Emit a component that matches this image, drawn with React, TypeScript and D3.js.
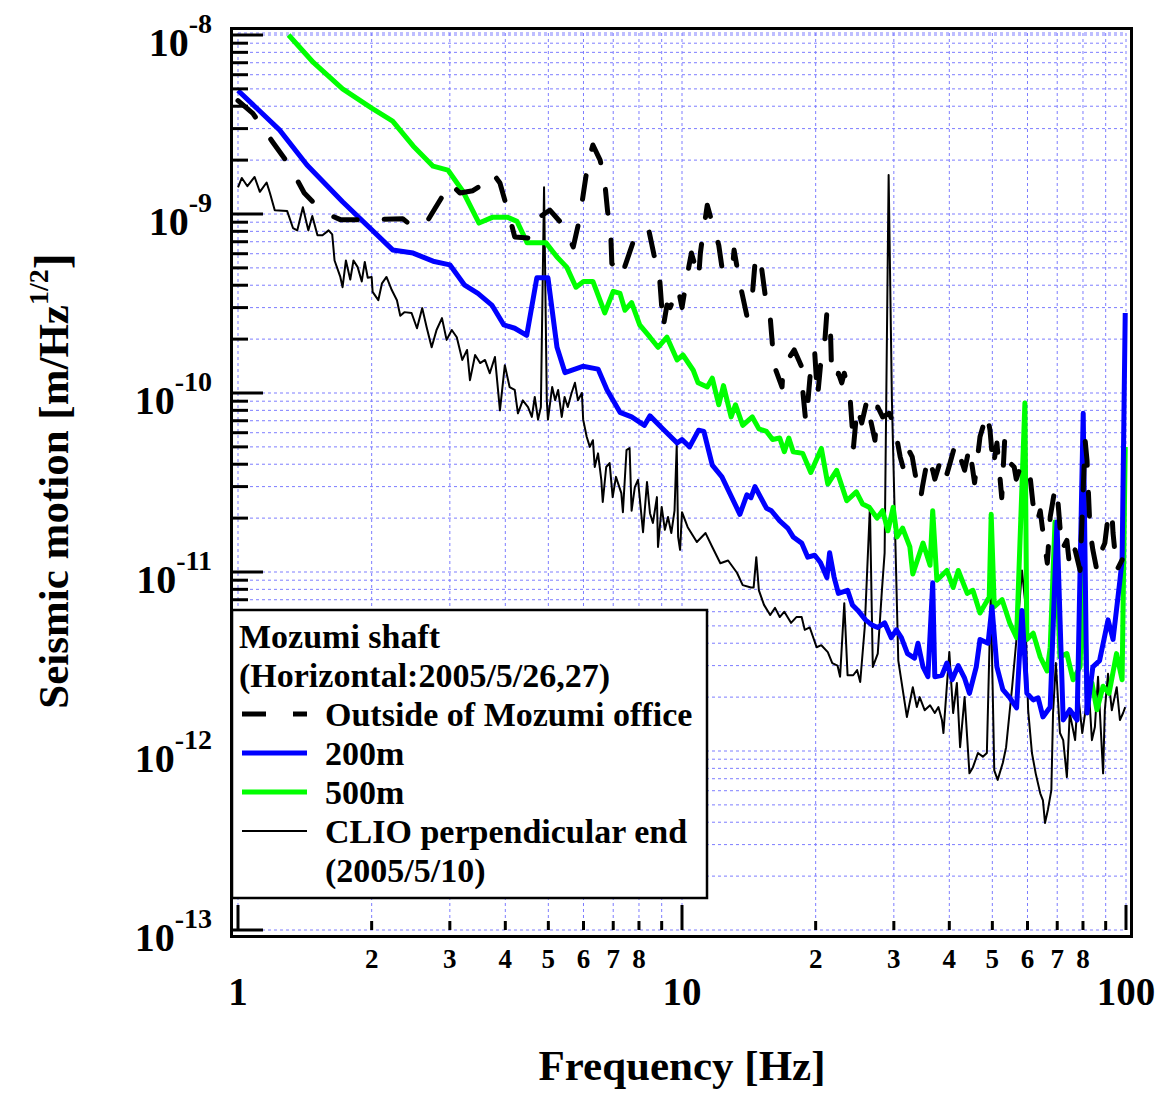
import React from 'react';
import * as d3 from 'd3';

// [frequency Hz, amplitude m/Hz^1/2]
const outsideOffice: [number, number][] = [
  [1.0, 4.3e-9], [1.08, 3.65e-9], [1.2, 2.5e-9], [1.3, 1.9e-9], [1.41, 1.31e-9], [1.55, 1.03e-9],
  [1.7, 9.3e-10], [2.03, 9.3e-10], [2.35, 9.4e-10], [2.5, 8.35e-10], [2.66, 9.0e-10], [2.9, 1.28e-9],
  [3.0, 1.49e-9], [3.16, 1.31e-9], [3.38, 1.35e-9], [3.6, 1.49e-9], [3.75, 1.69e-9], [3.89, 1.49e-9],
  [4.09, 9.6e-10], [4.2, 7.45e-10], [4.5, 7.35e-10], [4.74, 9.5e-10], [5.04, 1.05e-9], [5.39, 8.7e-10],
  [5.69, 6.55e-10], [5.89, 9.6e-10], [5.99, 1.28e-9], [6.14, 1.93e-9], [6.3, 2.43e-9], [6.54, 2.0e-9],
  [6.7, 1.5e-9], [6.8, 1.03e-9], [6.91, 7.8e-10], [6.95, 5.3e-10], [7.3, 4.45e-10], [7.75, 6.9e-10],
  [8.03, 7.8e-10], [8.4, 8.35e-10], [8.65, 5.9e-10], [8.9, 4.45e-10], [9.07, 2.33e-10], [9.25, 3.1e-10],
  [9.4, 3.0e-10], [9.8, 3.86e-10], [10.0, 3.0e-10], [10.3, 4.7e-10], [10.5, 6.05e-10], [10.9, 4.4e-10],
  [11.0, 6.05e-10], [11.1, 7.15e-10], [11.4, 1.12e-9], [11.7, 8.9e-10], [12.1, 6.7e-10], [12.3, 5.05e-10],
  [12.6, 5.5e-10], [13.0, 5.05e-10], [13.1, 6.3e-10], [13.5, 4.1e-10], [14.0, 2.7e-10], [14.4, 3.5e-10],
  [14.6, 5.3e-10], [14.8, 5.9e-10], [15.1, 5.05e-10], [15.4, 3.5e-10], [15.8, 2.65e-10], [16.0, 1.8e-10],
  [16.2, 1.38e-10], [16.8, 1.08e-10], [16.9, 1.4e-10], [17.9, 1.74e-10], [18.6, 1.4e-10], [18.7, 1.04e-10],
  [19.0, 6.9e-11], [19.2, 8.8e-11], [19.6, 1.6e-10], [19.9, 1.69e-10], [20.1, 1.14e-10], [20.2, 9.5e-11],
  [20.6, 1.6e-10], [21.0, 2.03e-10], [21.2, 2.83e-10], [21.6, 2.2e-10], [21.7, 1.47e-10], [22.4, 1.18e-10],
  [22.5, 1.29e-10], [22.9, 1.14e-10], [23.2, 1.29e-10], [23.9, 9.5e-11], [24.2, 6.2e-11], [24.3, 4.8e-11],
  [24.8, 8.35e-11], [25.4, 6.8e-11], [26.1, 9.1e-11], [26.5, 7.35e-11], [27.2, 5.45e-11], [27.6, 8.35e-11],
  [28.3, 7.35e-11], [29.3, 7.7e-11], [30.4, 6.2e-11], [30.6, 5.25e-11], [31.0, 4.4e-11], [31.6, 3.7e-11],
  [32.4, 4.8e-11], [33.0, 4.4e-11], [33.6, 3.4e-11], [34.5, 2.6e-11], [34.8, 3.0e-11], [35.8, 4.4e-11],
  [36.7, 3.7e-11], [37.1, 3.3e-11], [38.1, 4.1e-11], [39.2, 3.3e-11], [40.2, 4.1e-11], [41.3, 5.25e-11],
  [42.3, 4.4e-11], [43.3, 3.7e-11], [44.4, 5.0e-11], [45.6, 3.15e-11], [46.9, 5.7e-11], [48.6, 7.7e-11],
  [49.4, 6.2e-11], [50.2, 3.86e-11], [51.2, 5.25e-11], [52.5, 2.6e-11], [53.3, 5.45e-11], [54.6, 4.1e-11],
  [56.0, 3.86e-11], [56.6, 3.3e-11], [57.5, 3.7e-11], [58.5, 3.3e-11], [60.7, 3.57e-11], [61.7, 2.43e-11],
  [63.0, 1.88e-11], [64.1, 2.2e-11], [65.2, 1.57e-11], [66.5, 1.12e-11], [67.5, 2.03e-11], [69.3, 3.0e-11],
  [70.3, 2.43e-11], [71.7, 1.33e-11], [73.6, 1.5e-11], [74.7, 1.06e-11], [76.8, 1.33e-11], [78.8, 1.02e-11],
  [80.9, 5.45e-11], [81.7, 4.2e-11], [83.0, 1.7e-11], [84.2, 1.33e-11], [86.0, 1.02e-11], [88.3, 1.33e-11],
  [89.6, 1.45e-11], [91.1, 2.03e-11], [92.9, 2.2e-11], [93.5, 1.65e-11], [95.3, 1.02e-11], [98.0, 1.17e-11],
];

const shaft200m: [number, number][] = [
  [1.0, 4.9e-9], [1.24, 2.95e-9], [1.43, 1.88e-9], [1.72, 1.17e-9], [2.23, 6.3e-10], [2.48, 6.05e-10],
  [2.75, 5.45e-10], [3.0, 5.2e-10], [3.24, 4.0e-10], [3.47, 3.6e-10], [3.73, 3.1e-10], [3.97, 2.4e-10],
  [4.2, 2.3e-10], [4.47, 2.1e-10], [4.71, 4.4e-10], [4.99, 4.4e-10], [5.23, 1.8e-10], [5.45, 1.3e-10],
  [5.98, 1.41e-10], [6.47, 1.36e-10], [6.78, 1.04e-10], [7.25, 7.8e-11], [7.7, 7.35e-11], [8.23, 6.6e-11],
  [8.47, 7.45e-11], [9.0, 6.4e-11], [9.75, 5.25e-11], [10.0, 5.5e-11], [10.4, 5.0e-11], [10.9, 6.2e-11],
  [11.2, 6.1e-11], [11.7, 3.95e-11], [12.3, 3.4e-11], [13.5, 2.1e-11], [14.0, 2.7e-11], [14.3, 2.6e-11],
  [14.6, 3.0e-11], [15.5, 2.27e-11], [15.9, 2.2e-11], [16.6, 1.93e-11], [17.3, 1.76e-11], [17.8, 1.57e-11],
  [18.6, 1.45e-11], [19.2, 1.21e-11], [19.9, 1.24e-11], [20.5, 1.13e-11], [21.2, 9.3e-12], [21.5, 1.28e-11],
  [22.0, 9.4e-12], [22.5, 7.6e-12], [23.6, 7.9e-12], [24.2, 6.55e-12], [24.9, 6.1e-12], [25.9, 5.4e-12],
  [26.8, 5.05e-12], [27.6, 4.9e-12], [28.6, 5.2e-12], [29.6, 4.3e-12], [30.4, 4.75e-12], [31.2, 4.3e-12],
  [32.2, 3.5e-12], [33.4, 3.3e-12], [34.0, 4.0e-12], [34.9, 2.95e-12], [35.8, 2.6e-12], [36.7, 8.7e-12],
  [37.1, 2.6e-12], [38.5, 2.65e-12], [39.5, 3.1e-12], [40.6, 2.5e-12], [41.9, 3.0e-12], [43.3, 2.55e-12],
  [44.4, 2.1e-12], [46.0, 2.95e-12], [46.9, 4.2e-12], [48.9, 4.0e-12], [49.9, 6.4e-12], [51.2, 2.95e-12],
  [52.8, 2.2e-12], [54.6, 2.0e-12], [56.7, 1.74e-12], [58.3, 6.1e-12], [59.8, 2.1e-12], [61.8, 1.93e-12],
  [63.4, 1.98e-12], [65.0, 1.55e-12], [67.5, 1.76e-12], [69.9, 1.9e-11], [72.2, 1.49e-12], [74.7, 1.7e-12],
  [77.6, 1.49e-12], [80.1, 7.7e-11], [81.7, 1.63e-12], [84.2, 2.95e-12], [87.2, 3.2e-12], [91.1, 5.4e-12],
  [93.5, 4.2e-12], [96.9, 9.0e-12], [98.0, 1.17e-11], [99.6, 2.8e-10],
];

const shaft500m: [number, number][] = [
  [1.3, 1.0e-8], [1.48, 7.0e-9], [1.72, 5.0e-9], [2.0, 3.9e-9], [2.23, 3.3e-9], [2.48, 2.4e-9],
  [2.75, 1.85e-9], [2.97, 1.76e-9], [3.21, 1.34e-9], [3.49, 8.9e-10], [3.75, 9.6e-10], [4.04, 9.6e-10],
  [4.25, 9.1e-10], [4.48, 6.9e-10], [4.94, 6.9e-10], [5.23, 5.75e-10], [5.5, 5.05e-10], [5.77, 3.9e-10],
  [6.0, 4.2e-10], [6.3, 4.2e-10], [6.7, 2.8e-10], [7.0, 3.7e-10], [7.25, 3.6e-10], [7.44, 2.9e-10],
  [7.7, 3.2e-10], [8.03, 2.4e-10], [8.47, 2.05e-10], [8.83, 1.8e-10], [9.25, 2.05e-10], [9.75, 1.53e-10],
  [10.05, 1.63e-10], [10.6, 1.34e-10], [10.87, 1.14e-10], [11.4, 1.08e-10], [11.7, 1.21e-10], [12.1, 8.6e-11],
  [12.4, 1.1e-10], [12.9, 7.35e-11], [13.2, 8.6e-11], [13.7, 6.6e-11], [14.4, 7.35e-11], [14.9, 6.3e-11],
  [15.5, 6.1e-11], [16.0, 5.5e-11], [16.6, 5.6e-11], [17.0, 4.7e-11], [17.4, 5.6e-11], [17.8, 4.7e-11],
  [18.7, 4.6e-11], [19.5, 3.6e-11], [20.6, 4.9e-11], [21.3, 3.1e-11], [22.3, 3.7e-11], [23.5, 2.5e-11],
  [24.7, 2.8e-11], [25.5, 2.4e-11], [26.4, 2.3e-11], [27.5, 2.0e-11], [28.3, 2.2e-11], [29.1, 1.7e-11],
  [29.9, 2.3e-11], [30.5, 1.57e-11], [31.4, 1.76e-11], [32.6, 1.38e-11], [33.1, 9.75e-12], [34.9, 1.45e-11],
  [36.2, 1.09e-11], [36.7, 2.2e-11], [37.5, 9.0e-12], [39.5, 1.02e-11], [40.8, 8.2e-12], [41.9, 1.02e-11],
  [43.9, 7.6e-12], [45.2, 7.9e-12], [46.9, 5.9e-12], [49.2, 7.25e-12], [49.7, 2.1e-11], [50.5, 6.4e-12],
  [52.6, 7.0e-12], [54.7, 5.2e-12], [56.7, 4.3e-12], [59.2, 8.8e-11], [59.8, 4.2e-12], [61.8, 4.55e-12],
  [64.1, 3.35e-12], [66.4, 2.8e-12], [67.5, 3.8e-12], [69.2, 1.9e-11], [71.0, 3.35e-12], [73.6, 3.5e-12],
  [76.0, 2.5e-12], [78.8, 2.95e-12], [80.1, 1.12e-11], [81.7, 2.1e-12], [83.8, 2.4e-12], [86.0, 1.7e-12],
  [88.8, 2.3e-12], [91.6, 2.1e-12], [95.2, 3.5e-12], [98.0, 2.5e-12], [99.6, 5.0e-11],
];

const clioEnd: [number, number][] = [
  [1.0, 1.41e-9], [1.02, 1.59e-9], [1.05, 1.43e-9], [1.09, 1.61e-9], [1.12, 1.33e-9], [1.16, 1.5e-9],
  [1.18, 1.31e-9], [1.21, 1.05e-9], [1.29, 1.04e-9], [1.33, 8.35e-10], [1.36, 8.1e-10], [1.4, 1.09e-9],
  [1.44, 8.1e-10], [1.47, 9.75e-10], [1.51, 7.6e-10], [1.55, 7.6e-10], [1.6, 8.1e-10], [1.63, 7.7e-10],
  [1.65, 5.5e-10], [1.7, 4.45e-10], [1.72, 3.9e-10], [1.75, 5.5e-10], [1.79, 4.3e-10], [1.82, 5.5e-10],
  [1.86, 5.05e-10], [1.9, 4.2e-10], [1.93, 5.4e-10], [1.96, 4.4e-10], [2.0, 4.45e-10], [2.01, 3.67e-10],
  [2.07, 3.3e-10], [2.11, 4.1e-10], [2.16, 4.45e-10], [2.22, 3.76e-10], [2.28, 3.3e-10], [2.32, 2.7e-10],
  [2.37, 2.83e-10], [2.46, 2.8e-10], [2.53, 2.3e-10], [2.6, 2.98e-10], [2.66, 2.33e-10], [2.73, 1.8e-10],
  [2.8, 2.25e-10], [2.88, 2.62e-10], [2.95, 1.98e-10], [3.03, 2.25e-10], [3.11, 2.05e-10], [3.2, 1.53e-10],
  [3.28, 1.74e-10], [3.33, 1.18e-10], [3.42, 1.63e-10], [3.51, 1.47e-10], [3.6, 1.53e-10], [3.69, 1.29e-10],
  [3.79, 1.59e-10], [3.89, 8.0e-11], [3.99, 1.43e-10], [4.09, 1.08e-10], [4.2, 1.04e-10], [4.27, 7.7e-11],
  [4.38, 9.1e-11], [4.5, 8.35e-11], [4.59, 7.35e-11], [4.66, 9.5e-11], [4.74, 7.1e-11], [4.81, 8.35e-11],
  [4.89, 1.41e-9], [4.96, 9.1e-11], [4.99, 7.1e-11], [5.1, 1.08e-10], [5.18, 9.1e-11], [5.26, 1.04e-10],
  [5.36, 7.35e-11], [5.44, 9.5e-11], [5.53, 8.35e-11], [5.64, 1.0e-10], [5.74, 1.14e-10], [5.83, 9.1e-11],
  [5.95, 1.0e-10], [5.99, 7.1e-11], [6.1, 5.7e-11], [6.2, 5.0e-11], [6.3, 5.45e-11], [6.36, 3.86e-11],
  [6.47, 4.6e-11], [6.58, 3.27e-11], [6.63, 2.46e-11], [6.75, 3.86e-11], [6.87, 4.06e-11], [6.98, 2.62e-11],
  [7.1, 3.4e-11], [7.3, 2.76e-11], [7.36, 2.16e-11], [7.5, 4.8e-11], [7.62, 4.93e-11], [7.7, 2.2e-11],
  [7.83, 2.98e-11], [7.96, 3.27e-11], [8.17, 1.67e-11], [8.34, 3.18e-11], [8.47, 2.13e-11], [8.6, 1.88e-11],
  [8.78, 2.62e-11], [8.83, 1.38e-11], [9.0, 2.31e-11], [9.15, 1.72e-11], [9.3, 2.03e-11], [9.46, 1.65e-11],
  [9.62, 2.2e-11], [9.73, 5.1e-11], [9.8, 1.57e-11], [9.9, 1.33e-11], [10.0, 2.16e-11], [10.3, 1.78e-11],
  [10.8, 1.47e-11], [11.3, 1.65e-11], [11.7, 1.38e-11], [12.2, 1.12e-11], [12.7, 1.16e-11], [13.3, 9.9e-12],
  [13.7, 8.45e-12], [14.3, 8.2e-12], [14.5, 8.2e-12], [14.7, 1.21e-11], [14.9, 7.9e-12], [15.3, 6.55e-12],
  [15.8, 5.75e-12], [16.2, 6.3e-12], [16.6, 5.6e-12], [17.0, 6.0e-12], [17.6, 5.2e-12], [18.1, 5.6e-12],
  [18.6, 5.6e-12], [18.9, 4.75e-12], [19.4, 4.9e-12], [20.1, 3.8e-12], [20.6, 3.9e-12], [21.3, 3.57e-12],
  [21.8, 3.1e-12], [22.4, 3.0e-12], [22.7, 2.6e-12], [23.2, 6.7e-12], [23.6, 2.65e-12], [24.3, 2.65e-12],
  [24.8, 2.83e-12], [25.2, 2.43e-12], [25.8, 4.93e-12], [26.5, 2.31e-11], [26.9, 2.95e-12], [27.6, 3.5e-12],
  [28.2, 7.9e-12], [28.6, 1.28e-11], [29.2, 1.65e-9], [29.7, 9.1e-11], [30.7, 3.2e-12], [32.1, 1.55e-12],
  [33.1, 2.27e-12], [33.8, 1.76e-12], [34.3, 2.0e-12], [35.2, 1.69e-12], [36.2, 1.8e-12], [37.1, 1.63e-12],
  [37.8, 1.76e-12], [38.5, 1.49e-12], [38.8, 1.26e-12], [40.0, 3.57e-12], [40.8, 1.63e-12], [41.6, 2.4e-12],
  [42.3, 1.05e-12], [43.3, 2.0e-12], [44.4, 7.5e-13], [45.2, 8.1e-13], [46.4, 9.75e-13], [47.6, 9.3e-13],
  [48.6, 9.75e-13], [49.6, 7.6e-12], [50.5, 7.8e-13], [51.4, 6.9e-13], [52.8, 8.6e-13], [53.7, 1.05e-12],
  [55.4, 2.27e-12], [57.1, 5.2e-12], [58.3, 1.02e-11], [59.2, 7.0e-12], [60.2, 1.69e-12], [61.4, 9.75e-13],
  [62.6, 7.5e-13], [64.1, 5.8e-13], [65.0, 5.3e-13], [65.7, 3.96e-13], [66.7, 4.7e-13], [67.9, 6.05e-13],
  [68.5, 1.63e-12], [69.5, 3.1e-12], [71.0, 1.26e-12], [72.2, 1.15e-12], [73.6, 7.15e-13], [74.7, 1.63e-12],
  [76.8, 1.15e-12], [78.0, 2.1e-12], [79.7, 1.26e-12], [80.9, 1.63e-12], [82.2, 2.5e-12], [83.8, 1.15e-12],
  [85.1, 1.36e-12], [86.5, 2.6e-12], [88.8, 7.5e-13], [89.6, 1.69e-12], [91.1, 2.7e-12], [92.9, 1.69e-12],
  [95.3, 2.27e-12], [96.9, 1.49e-12], [98.5, 1.63e-12], [99.6, 1.76e-12],
];

const majorFreqs = [1, 10, 100];
const minorFreqLabels = [2, 3, 4, 5, 6, 7, 8, 20, 30, 40, 50, 60, 70, 80];
const decadeExps = [-13, -12, -11, -10, -9, -8];
const legendHeader = ['Mozumi shaft', '(Horizontal:2005/5/26,27)'];
const legendItems = [
  { label: 'Outside of Mozumi office', color: '#000000', width: 5, dash: '24 27' },
  { label: '200m', color: '#0000ff', width: 5, dash: null },
  { label: '500m', color: '#00ff00', width: 5, dash: null },
  { label: 'CLIO perpendicular end', color: '#000000', width: 2, dash: null },
];
const legendExtra = '(2005/5/10)';

const FONT = "'Liberation Serif', 'Times New Roman', Times, serif";
const GRID = '#7070ff';

export default function App() {
  const x = d3.scaleLog().domain([1, 100]).range([238, 1126]);
  const y = d3.scaleLog().domain([1e-13, 1e-8]).range([930, 35]);
  const line = d3.line<[number, number]>().x(d => x(d[0])).y(d => y(d[1]));

  const gridFreqs: number[] = [];
  for (let e = 0; e < 2; e++) for (let m = 1; m < 10; m++) gridFreqs.push(m * Math.pow(10, e));
  gridFreqs.push(100);
  const gridVals: number[] = [];
  for (let e = -13; e < -8; e++) for (let m = 1; m < 10; m++) gridVals.push(+(m + 'e' + e));
  gridVals.push(1e-8);

  const series = [
    { data: clioEnd, color: '#000000', width: 2, dash: null as string | null },
    { data: shaft500m, color: '#00ff00', width: 5, dash: null },
    { data: shaft200m, color: '#0000ff', width: 5, dash: null },
    { data: outsideOffice, color: '#000000', width: 5, dash: '24 27' },
  ];

  return (
    <svg width={1162} height={1093} style={{ position: 'absolute', left: 0, top: 0, background: '#fff' }}
      fontFamily={FONT} fontWeight="bold">
      <defs>
        <clipPath id="plotClip">
          <rect x={233} y={30} width={895} height={905} />
        </clipPath>
      </defs>
      <rect x={0} y={0} width={1162} height={1093} fill="#fff" />

      {/* grid */}
      <g stroke={GRID} strokeWidth={1} strokeDasharray="3 3" opacity={0.9}>
        {gridFreqs.map(f => (
          <line key={'gx' + f} x1={x(f)} x2={x(f)} y1={33} y2={930} />
        ))}
        {gridVals.map(v => (
          <line key={'gy' + v} x1={238} x2={1126} y1={y(v)} y2={y(v)} />
        ))}
        <line x1={238} x2={1126} y1={33} y2={33} />
      </g>

      {/* curves */}
      <g clipPath="url(#plotClip)" fill="none" strokeLinejoin="round">
        {series.map((s, i) => (
          <path key={i} d={line(s.data) || ''} stroke={s.color} strokeWidth={s.width}
            strokeDasharray={s.dash || undefined} strokeLinecap={s.dash ? 'round' : 'butt'} />
        ))}
      </g>

      {/* frame */}
      <rect x={231.5} y={28.5} width={900} height={908} fill="none" stroke="#000" strokeWidth={3} />

      {/* ticks */}
      <g stroke="#000" strokeWidth={3}>
        {gridVals.map(v => {
          const major = Math.abs(Math.log10(v) - Math.round(Math.log10(v))) < 1e-6;
          return <line key={'ty' + v} x1={233} x2={major ? 263 : 248} y1={y(v)} y2={y(v)} />;
        })}
        {gridFreqs.map(f => {
          const major = majorFreqs.includes(f);
          return <line key={'tx' + f} x1={x(f)} x2={x(f)} y1={930} y2={major ? 905 : 921} />;
        })}
      </g>

      {/* y labels */}
      {decadeExps.map(e => (
        <text key={'ly' + e} x={212} y={y(Math.pow(10, e)) + 21} textAnchor="end" fontSize={40}>
          10<tspan dy={-23} fontSize={28}>{String(e)}</tspan>
        </text>
      ))}

      {/* x labels */}
      {majorFreqs.map(f => (
        <text key={'lx' + f} x={x(f)} y={1005} textAnchor="middle" fontSize={39}>{f}</text>
      ))}
      {minorFreqLabels.map(f => (
        <text key={'lm' + f} x={x(f)} y={968} textAnchor="middle" fontSize={27}>
          {String(f).charAt(0)}
        </text>
      ))}

      {/* axis titles */}
      <text x={682} y={1080} textAnchor="middle" fontSize={43}>Frequency [Hz]</text>
      <text transform="translate(68,481) rotate(-90)" textAnchor="middle" fontSize={43}>
        Seismic motion [m/Hz<tspan dy={-20} fontSize={28}>1/2</tspan><tspan dy={20} fontSize={48}>]</tspan>
      </text>

      {/* legend */}
      <rect x={232} y={610} width={475} height={288} fill="#fff" stroke="#000" strokeWidth={2.5} />
      {legendHeader.map((t, i) => (
        <text key={'lh' + i} x={239} y={648 + i * 39} fontSize={34}>{t}</text>
      ))}
      {legendItems.map((it, i) => {
        const ly = 714 + i * 39;
        return (
          <g key={'li' + i}>
            <line x1={242} x2={307} y1={ly} y2={ly} stroke={it.color} strokeWidth={it.width}
              strokeDasharray={it.dash || undefined} />
            <text x={325} y={726 + i * 39} fontSize={34}>{it.label}</text>
          </g>
        );
      })}
      <text x={325} y={882} fontSize={34}>{legendExtra}</text>
    </svg>
  );
}
